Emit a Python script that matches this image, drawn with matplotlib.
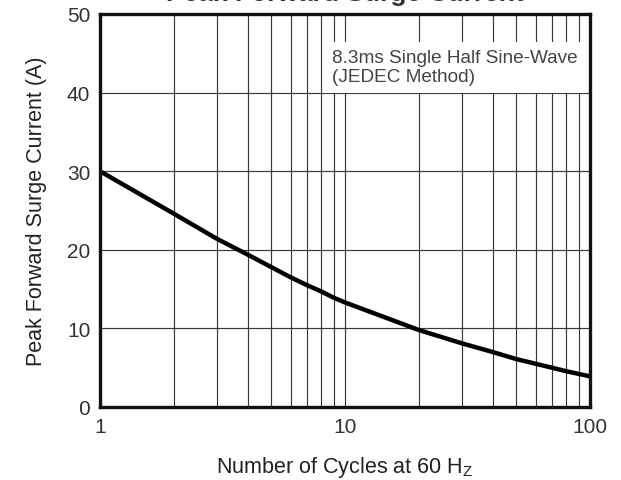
import matplotlib
matplotlib.use('Agg')
import matplotlib.pyplot as plt
from matplotlib.patches import Rectangle
from matplotlib.ticker import FixedLocator, NullFormatter

plt.rcParams['font.family'] = ['Liberation Sans', 'DejaVu Sans']

# curve
cycles = [1, 2, 3, 4, 5, 6, 7, 8, 9, 10, 20, 30, 40, 50, 60, 70, 80, 100]
surge_a = [30, 24.6, 21.4, 19.4, 17.8, 16.5, 15.5, 14.7, 13.9, 13.3,
           9.8, 8.1, 7.0, 6.1, 5.5, 5.0, 4.55, 3.9]

x_major = [1, 10, 100]
x_labels = ['1', '10', '100']
y_ticks = [0, 10, 20, 30, 40, 50]

title = 'Peak Forward Surge Current'
note = '8.3ms Single Half Sine-Wave\n(JEDEC Method)'

fig = plt.figure(figsize=(6.21, 4.81), dpi=100)
ax = fig.add_axes([100 / 621, (481 - 408) / 481, 490 / 621, 393 / 481])

ax.set_xscale('log')
ax.set_xlim(1, 100)
ax.set_ylim(0, 50)

# grid: every integer within each decade, horizontal every 10 A
minor = [m * d for d in (1, 10) for m in range(2, 10)]
ax.xaxis.set_major_locator(FixedLocator(x_major))
ax.xaxis.set_minor_locator(FixedLocator(minor))
ax.xaxis.set_minor_formatter(NullFormatter())
ax.set_xticklabels(x_labels)
ax.set_yticks(y_ticks)
ax.grid(True, which='both', axis='x', color='#3a3a3a', lw=0.85, zorder=1)
ax.grid(True, which='major', axis='y', color='#3a3a3a', lw=0.85, zorder=1)
ax.tick_params(which='both', length=0, labelsize=15, colors='#333333', pad=7)

ax.plot(cycles, surge_a, color='black', lw=3.2, zorder=3, solid_capstyle='butt')

for s in ax.spines.values():
    s.set_linewidth(2.4)
    s.set_color('#111111')
    s.set_zorder(5)

# white box behind the note hides the grid
ax.add_patch(Rectangle((0.455, 0.80), 0.539, 0.13, transform=ax.transAxes,
                       facecolor='white', edgecolor='none', zorder=2))
ax.text(0.473, 0.91, note, transform=ax.transAxes, va='top', ha='left',
        fontsize=13.7, color='#444444', linespacing=1.1, zorder=4)

ax.set_xlabel('Number of Cycles at 60 H$_\\mathregular{Z}$', fontsize=15.5,
              color='#222222', labelpad=13)
ax.set_ylabel('Peak Forward Surge Current (A)', fontsize=15.5,
              color='#222222', labelpad=14)

# title sits mostly above the top edge, as in the cropped original
fig.text(345 / 621, 1 - 1 / 481, title, ha='center', va='baseline',
         fontsize=19, fontweight='bold', color='#333333')

fig.savefig('out.png', dpi=100)
